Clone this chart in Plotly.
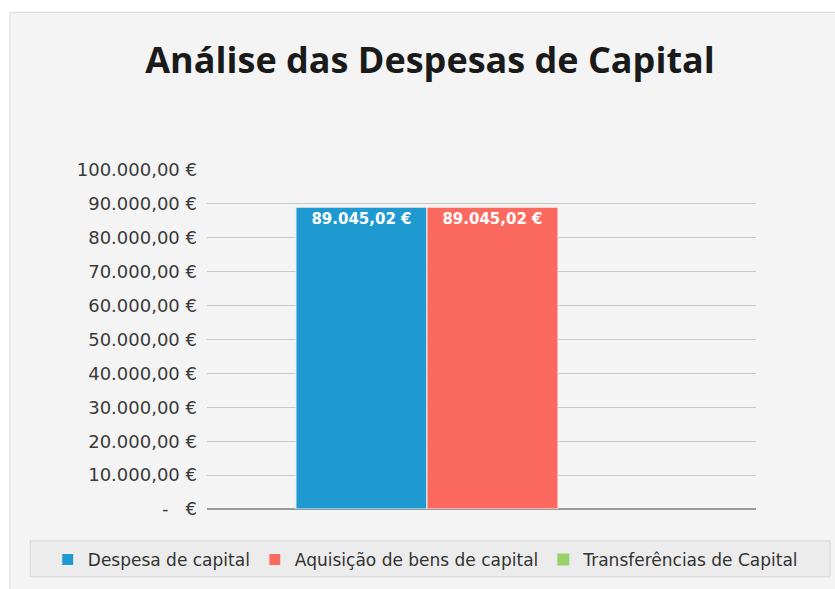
import plotly.graph_objects as go

category = ["Despesas de Capital"]
series_names = ["Despesa de capital", "Aquisição de bens de capital", "Transferências de Capital"]
series_values = [89045.02, 89045.02, 0]
series_colors = ["#1f9ad1", "#fc6a5f", "#97d16a"]
tick_values = [0, 10000, 20000, 30000, 40000, 50000, 60000, 70000, 80000, 90000, 100000]
tick_labels = ["-   €", "10.000,00 €", "20.000,00 €", "30.000,00 €", "40.000,00 €", "50.000,00 €",
               "60.000,00 €", "70.000,00 €", "80.000,00 €", "90.000,00 €", "100.000,00 €"]

FONT = "DejaVu Sans"
fig = go.Figure()
for name, val, col in zip(series_names, series_values, series_colors):
    fig.add_trace(go.Bar(
        x=category, y=[val], name=name,
        marker=dict(color=col, line=dict(color="#f4f4f4", width=1 if val else 0)),
        texttemplate="%{y:,.2f} €" if val else "",
        textposition="inside", insidetextanchor="end",
        textfont=dict(color="white", size=15, family=FONT, weight="bold"),
    ))

fig.update_layout(
    width=835, height=589,
    separators=",.",
    barmode="group", bargap=0.284, bargroupgap=0,
    margin=dict(l=207, r=79, t=170, b=79),
    paper_bgcolor="#ffffff", plot_bgcolor="rgba(0,0,0,0)",
    font=dict(family=FONT, color="#404040"),
    title=dict(text="<b>Análise das Despesas de Capital</b>", x=0.515, xanchor="center",
               y=0.898, yanchor="middle", font=dict(size=36, color="#1a1a1a", family="Open Sans")),
    xaxis=dict(showticklabels=False, showgrid=False, zeroline=False, range=[-0.52, 0.48]),
    yaxis=dict(range=[0, 100000], tickvals=tick_values, ticktext=tick_labels,
               showgrid=True, gridcolor="#c8c8c8", gridwidth=1,
               zeroline=True, zerolinecolor="#9a9a9a", zerolinewidth=1.5,
               tickfont=dict(size=18, color="#3a3a3a"), ticks="", ticklabelstandoff=9),
    legend=dict(orientation="h", xref="paper", yref="paper", x=-0.29, xanchor="left",
                y=-0.147, yanchor="middle", font=dict(size=17, color="#333333"),
                bgcolor="rgba(0,0,0,0)", traceorder="normal"),
    shapes=[
        dict(type="rect", xref="paper", yref="paper", x0=-0.359, x1=1.2, y0=-0.3, y1=1.465,
             fillcolor="#f4f4f4", line=dict(color="#dcdcdc", width=1), layer="below"),
        dict(type="rect", xref="paper", yref="paper", x0=-0.322, x1=1.135, y0=-0.2, y1=-0.094,
             fillcolor="#ececec", line=dict(color="#d6d6d6", width=1), layer="below"),
    ],
)

fig.write_html("out.html", config={"displayModeBar": False},
               post_script="document.body.style.margin='0px';")
